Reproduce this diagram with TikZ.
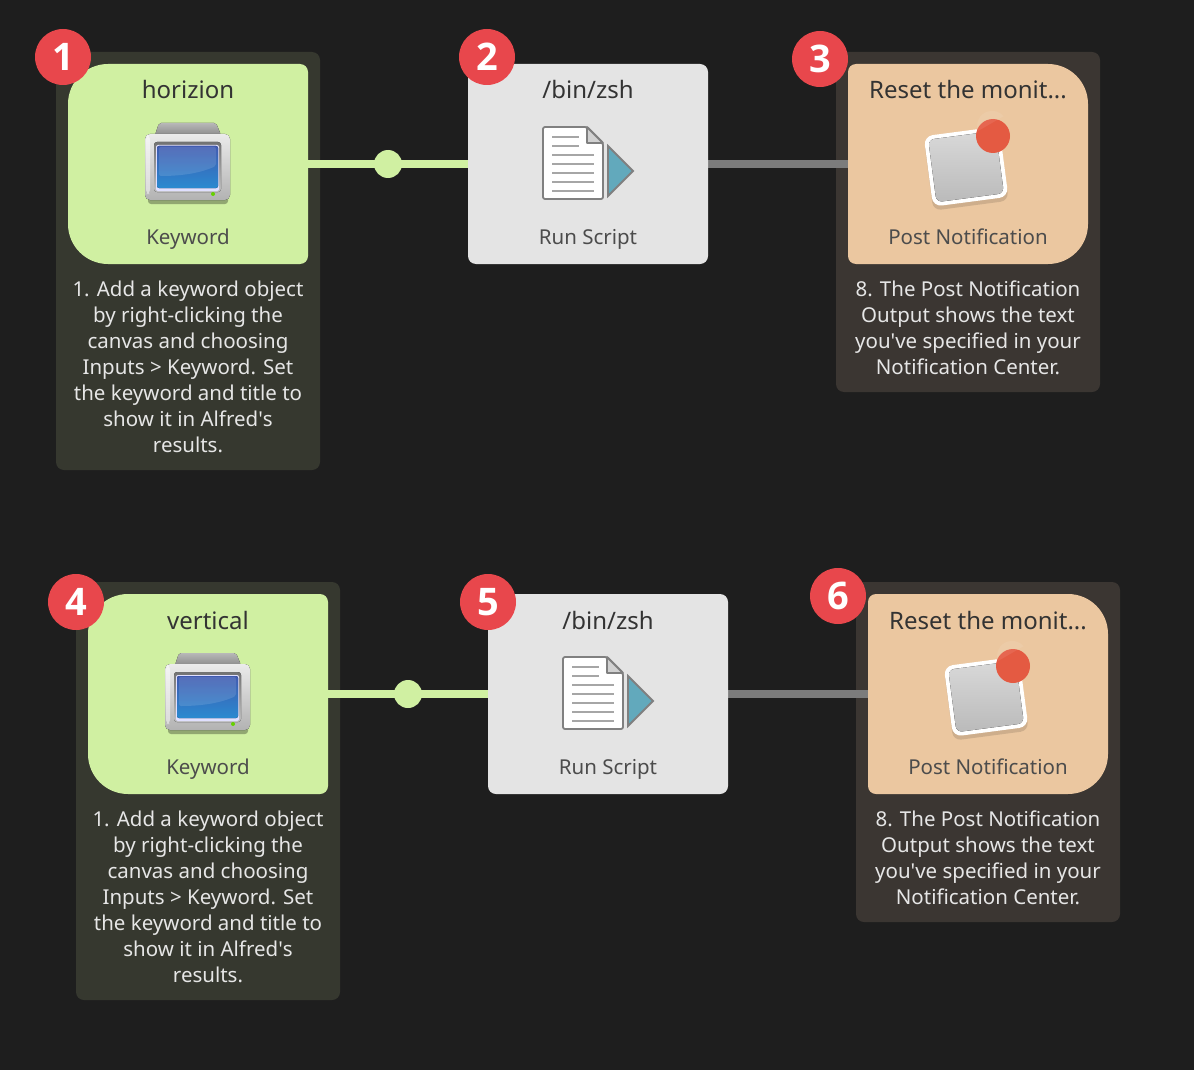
\documentclass[tikz,border=0pt]{standalone}
\usepackage{fontspec}
\setmainfont{Noto Sans}
\newfontfamily\badgefont{Open Sans}
\usetikzlibrary{positioning,shadings}
\definecolor{bgdark}{HTML}{1E1E1E}
\definecolor{panelgreen}{HTML}{36382F}
\definecolor{panelbrown}{HTML}{3B3632}
\definecolor{kwgreen}{HTML}{D0F0A2}
\definecolor{runshade}{HTML}{E4E4E4}
\definecolor{peach}{HTML}{EBC7A0}
\definecolor{linkgrey}{HTML}{7C7C7C}
\definecolor{badgered}{HTML}{E8474C}
\definecolor{notetext}{HTML}{E6E6E6}
\definecolor{titletext}{HTML}{333333}
\definecolor{subtext}{HTML}{4C4C4C}
\definecolor{screentop}{HTML}{3F5AB0}
\definecolor{screenmid}{HTML}{21479E}
\definecolor{screenlow}{HTML}{2A8AD0}
\definecolor{playteal}{HTML}{62A9BC}
\definecolor{dotred}{HTML}{E45A42}
\tikzset{
  panel/.style={rectangle,rounded corners=8pt,minimum width=264pt,inner sep=0pt},
  box/.style={rectangle,minimum width=240pt,minimum height=200pt,inner sep=0pt,outer sep=0pt},
  badge/.style={circle,fill=badgered,minimum size=56pt,inner sep=0pt,text=white,font=\badgefont\fontsize{38}{38}\selectfont\bfseries},
  boxtitle/.style={text=titletext,font=\fontsize{24}{28}\selectfont,inner sep=0pt,anchor=base},
  boxsub/.style={text=subtext,font=\fontsize{20.5}{24}\selectfont,inner sep=0pt,anchor=base},
  note/.style={text=notetext,align=center,inner sep=0pt,font=\fontsize{20.5}{26}\selectfont},
  kwlink/.style={draw=kwgreen,line width=8pt},
  greylink/.style={draw=linkgrey,line width=8pt},
  linkdot/.style={circle,fill=kwgreen,minimum size=28pt,inner sep=0pt},
  pics/monitor/.style={code={
    \fill[black,opacity=.3,rounded corners=3pt] (-40,33) rectangle (40,40);
    \fill[top color=black!28,bottom color=black!45,rounded corners=2pt] (-29,-41) -- (28,-41) -- (33,-29) -- (-33,-29) -- cycle;
    \fill[top color=black!8,bottom color=black!30,rounded corners=5pt] (-43,-30) rectangle (42,36);
    \fill[white,opacity=.5,rounded corners=4pt] (-42,-29) rectangle (-38,30);
    \fill[top color=black!55,bottom color=black!25,rounded corners=3pt] (-34,-22) rectangle (33,28);
    \fill[blue!12!white,rounded corners=2pt] (-32,-19) rectangle (31,27);
    \fill[top color=screentop,middle color=screenmid,bottom color=screenlow,rounded corners=2pt] (-31,-18) rectangle (30,24);
    \fill[white,opacity=.12,rounded corners=2pt] (-29,-17) -- (28,-17) -- (28,2) .. controls (10,10) and (-10,12) .. (-29,12) -- cycle;
    \fill[green!70!black!60!yellow] (25,30) circle (2pt);
  }},
  pics/script/.style={code={
    \draw[draw=black!50,fill=white,line width=1.8pt,rounded corners=2pt,line join=round] (-45,-37) -- (-1,-37) -- (15,-21) -- (15,35) -- (-45,35) -- cycle;
    \draw[draw=black!50,fill=black!18,line width=1.8pt,line join=round] (-1,-37) -- (-1,-21) -- (15,-21) -- cycle;
    \foreach \yy in {-27,-18} \draw[black!35,line width=1.6pt] (-36,\yy) -- (-9,\yy);
    \foreach \yy in {-9,0,9,18,27} \draw[black!35,line width=1.6pt] (-36,\yy) -- (6,\yy);
    \draw[draw=black!50,fill=playteal,line width=1.8pt,line join=miter] (20,-18) -- (45,7) -- (20,32) -- cycle;
  }},
  pics/bell/.style={code={
    \fill[black,opacity=.12,rotate around={7.5:(-2,4)},rounded corners=8pt] (-40,-28) rectangle (36,42);
    \fill[white,rotate around={7.5:(-2,2)},rounded corners=9pt] (-40,-33) rectangle (36,38);
    \fill[top color=black!15,bottom color=black!27,rotate around={7.5:(-2,2)},rounded corners=6pt] (-36,-29) rectangle (32,34);
    \fill[dotred] (25,-28) circle (17pt);
    \fill[white,opacity=.08] (25,-28) ++(-15,-5) arc (200:40:15pt) -- cycle;
  }}
}
\begin{document}
\begin{tikzpicture}[x=1pt,y=-1pt]
  \useasboundingbox[fill=bgdark] (0,0) rectangle (1194,1070);
  % upper row
  \node[panel,fill=panelgreen,minimum height=418pt] (panelA) at (188,261) {};
  \node[panel,fill=panelbrown,minimum height=340pt] (panelC) at (968,222) {};
  \node[box] (kwA) at (188,164) {};
  \node[box] (runA) at (588,164) {};
  \node[box] (postA) at (968,164) {};
  \draw[kwlink] (kwA) -- node[linkdot] (dotA) {} (runA);
  \draw[greylink] (runA) -- (postA);
  \fill[kwgreen,rounded corners=8pt] (kwA.north) -- (kwA.north east) -- (kwA.south east) -- (kwA.south) [rounded corners=40pt] -- (kwA.south west) -- (kwA.north west) -- cycle;
  \fill[runshade,rounded corners=8pt] (runA.north west) -- (runA.north east) -- (runA.south east) -- (runA.south west) -- cycle;
  \fill[peach,rounded corners=8pt] (postA.north) -- (postA.north west) -- (postA.south west) -- (postA.south) [rounded corners=40pt] -- (postA.south east) -- (postA.north east) -- cycle;
  \node[boxtitle] (titleA) at (188,99) {horizion};
  \node[boxtitle] (titleB) at (588,99) {/bin/zsh};
  \node[boxtitle] (titleC) at (968,99) {Reset the monit...};
  \pic at (188,164) {monitor};
  \pic at (588,164) {script};
  \pic at (968,164) {bell};
  \node[boxsub] (subA) at (188,244) {Keyword};
  \node[boxsub] (subB) at (588,244) {Run Script};
  \node[boxsub] (subC) at (968,244) {Post Notification};
  \node[note] (noteA) at (188,367) {1. Add a keyword object\\by right-clicking the\\canvas and choosing\\Inputs > Keyword. Set\\the keyword and title to\\show it in Alfred\textquotesingle s\\results.};
  \node[note] (noteC) at (968,328) {8. The Post Notification\\Output shows the text\\you\textquotesingle ve specified in your\\Notification Center.};
  \node[badge] (badge1) at (63,57) {1};
  \node[badge] (badge2) at (487,57) {2};
  \node[badge] (badge3) at (820,59) {3};
  % lower row
  \node[panel,fill=panelgreen,minimum height=418pt] (panelD) at (208,791) {};
  \node[panel,fill=panelbrown,minimum height=340pt] (panelF) at (988,752) {};
  \node[box] (kwD) at (208,694) {};
  \node[box] (runD) at (608,694) {};
  \node[box] (postD) at (988,694) {};
  \draw[kwlink] (kwD) -- node[linkdot] (dotD) {} (runD);
  \draw[greylink] (runD) -- (postD);
  \fill[kwgreen,rounded corners=8pt] (kwD.north) -- (kwD.north east) -- (kwD.south east) -- (kwD.south) [rounded corners=40pt] -- (kwD.south west) -- (kwD.north west) -- cycle;
  \fill[runshade,rounded corners=8pt] (runD.north west) -- (runD.north east) -- (runD.south east) -- (runD.south west) -- cycle;
  \fill[peach,rounded corners=8pt] (postD.north) -- (postD.north west) -- (postD.south west) -- (postD.south) [rounded corners=40pt] -- (postD.south east) -- (postD.north east) -- cycle;
  \node[boxtitle] (titleD) at (208,629) {vertical};
  \node[boxtitle] (titleE) at (608,629) {/bin/zsh};
  \node[boxtitle] (titleF) at (988,629) {Reset the monit...};
  \pic at (208,694) {monitor};
  \pic at (608,694) {script};
  \pic at (988,694) {bell};
  \node[boxsub] (subD) at (208,774) {Keyword};
  \node[boxsub] (subE) at (608,774) {Run Script};
  \node[boxsub] (subF) at (988,774) {Post Notification};
  \node[note] (noteD) at (208,897) {1. Add a keyword object\\by right-clicking the\\canvas and choosing\\Inputs > Keyword. Set\\the keyword and title to\\show it in Alfred\textquotesingle s\\results.};
  \node[note] (noteF) at (988,858) {8. The Post Notification\\Output shows the text\\you\textquotesingle ve specified in your\\Notification Center.};
  \node[badge] (badge4) at (76,602) {4};
  \node[badge] (badge5) at (488,602) {5};
  \node[badge] (badge6) at (838,596) {6};
\end{tikzpicture}
\end{document}
